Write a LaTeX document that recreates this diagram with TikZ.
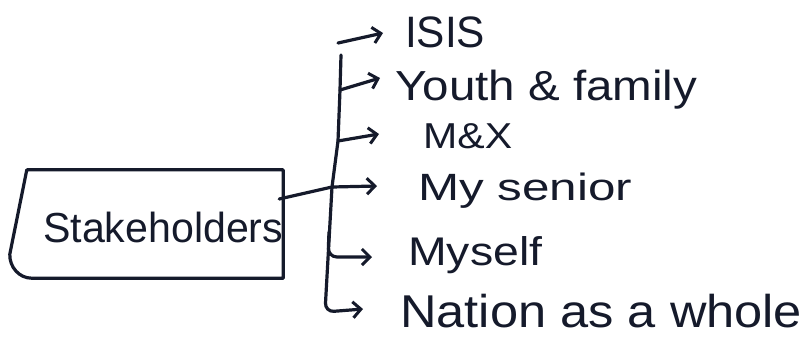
\documentclass[tikz,border=0pt]{standalone}
\usepackage{fontspec}
\usepackage{graphicx}
\setmainfont{Liberation Sans}
\usetikzlibrary{arrows.meta}
\definecolor{ink}{HTML}{151A2B}
% stretch a text horizontally to a given width, keeping its height
\newcommand\stretchto[2]{\resizebox{#1}{\height}{#2}}

\begin{document}
\begin{tikzpicture}[x=1pt,y=-1pt,
  inkline/.style={draw=ink,line width=3.2pt,line cap=round,line join=round},
  arr/.style={inkline,-{Straight Barb[length=8pt,width=16pt,line width=3pt]}},
  item/.style={inner sep=0pt,text=ink,anchor=base west}]

\useasboundingbox (0,0) rectangle (808,338);
\fill[white] (0,0) rectangle (808,338);

% the stakeholder box
\node[minimum width=273pt,minimum height=108pt,inner sep=0pt] (stake) at (146.5,224) {};
\draw[inkline] ([xshift=17pt]stake.north west) -- (stake.north east) -- (stake.south east)
  -- ([xshift=22pt]stake.south west) to[out=180,in=-92] ([yshift=24pt]stake.south west)
  -- ([xshift=17pt]stake.north west);
\node[item,font=\fontsize{42}{46}\selectfont] (stxt) at (43,242) {\stretchto{240pt}{Stakeholders}};

% stakeholder labels
\node[item,font=\fontsize{44}{48}\selectfont] (isis)   at (405,47)  {\stretchto{80pt}{ISIS}};
\node[item,font=\fontsize{42}{46}\selectfont] (youth)  at (395,100) {\stretchto{302pt}{Youth \& family}};
\node[item,font=\fontsize{36}{40}\selectfont] (mx)     at (423,148) {\stretchto{89pt}{M\&X}};
\node[item,font=\fontsize{38}{42}\selectfont] (senior) at (418,200) {\stretchto{214pt}{My senior}};
\node[item,font=\fontsize{40}{44}\selectfont] (myself) at (408,265) {\stretchto{134pt}{Myself}};
\node[item,font=\fontsize{46}{50}\selectfont] (nation) at (400,327) {\stretchto{402pt}{Nation as a whole}};

% branch points on the trunk and arrow tips
\coordinate (a0)   at (338,43);
\coordinate (tTop) at (341,55);
\coordinate (jY)   at (340,90);
\coordinate (jM)   at (338,141);
\coordinate (jS)   at (332,187);
\coordinate (jMy)  at (329,232);
\coordinate (cMy)  at (328,257);
\coordinate (jN)   at (325,312);
\coordinate (tI)   at ([shift={(-22pt,14pt)}]isis.base west);
\coordinate (tY)   at ([shift={(-15pt,22pt)}]youth.base west);
\coordinate (tM)   at ([shift={(-44pt,14pt)}]mx.base west);
\coordinate (tS)   at ([shift={(-41pt,14pt)}]senior.base west);
\coordinate (tMy)  at ([shift={(-36pt,8pt)}]myself.base west);
\coordinate (tN)   at ([shift={(-37pt,18pt)}]nation.base west);

% connector from the box to the trunk
\draw[inkline] ([shift={(-4pt,25pt)}]stake.east) -- (jS);

% trunk and branches
\draw[inkline] (tTop) -- (jY) -- (jM) -- (jS);
\draw[arr] (a0) -- (tI);
\draw[arr] (jY) -- (tY);
\draw[arr] (jM) -- (tM);
\draw[arr] (jS) -- (tS);
\draw[arr,rounded corners=9pt] (jMy) -- (cMy) -- (tMy);
\draw[arr,rounded corners=9pt] (jS) -- (jN) -- (tN);
\end{tikzpicture}
\end{document}
